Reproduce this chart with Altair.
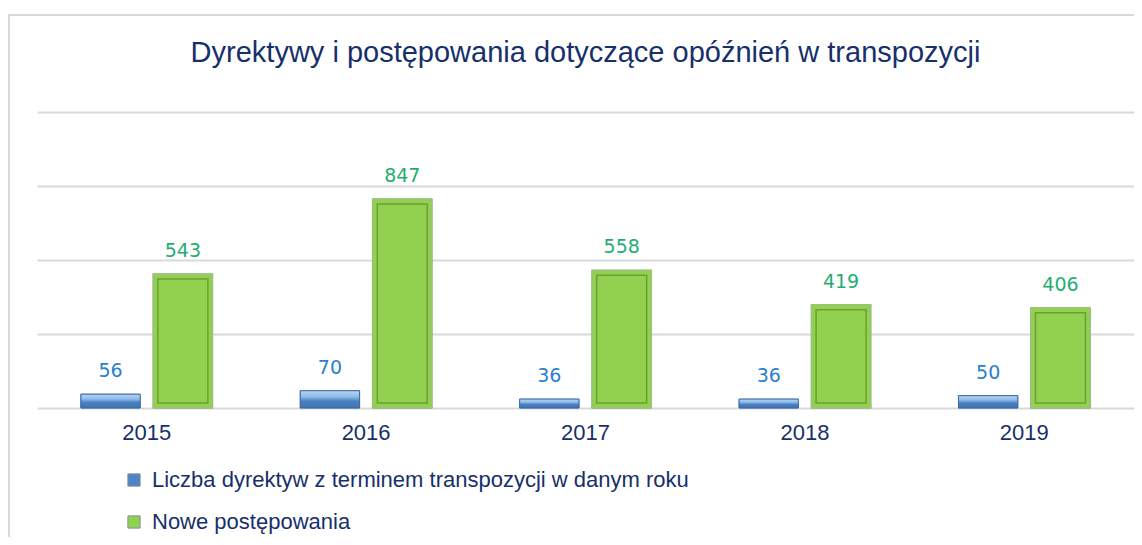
import altair as alt
import pandas as pd

years = ["2015", "2016", "2017", "2018", "2019"]
directives = [56, 70, 36, 36, 50]
proceedings = [543, 847, 558, 419, 406]
series_names = ["Liczba dyrektyw z terminem transpozycji w danym roku", "Nowe postępowania"]
title_text = "Dyrektywy i postępowania dotyczące opóźnień w transpozycji"

rows = []
for y, d, p in zip(years, directives, proceedings):
    rows.append({"year": y, "series": series_names[0], "value": d})
    rows.append({"year": y, "series": series_names[1], "value": p})
df = pd.DataFrame(rows)

NAVY = "#17306b"
FONT = "Liberation Sans"

x_enc = alt.X("year:N", sort=years, title=None,
              scale=alt.Scale(paddingInner=0.4, paddingOuter=0.2),
              axis=alt.Axis(labelFontSize=22, labelFont=FONT, labelColor=NAVY,
                            labelPadding=14, ticks=False, domain=False, labelAngle=0))
xo_enc = alt.XOffset("series:N", scale=alt.Scale(domain=series_names, paddingInner=0.18, paddingOuter=0))
y_enc = alt.Y("value:Q", title=None,
              scale=alt.Scale(domain=[0, 1200]),
              axis=alt.Axis(values=[0, 300, 600, 900, 1200], labels=False, ticks=False,
                            domain=False, grid=True, gridColor="#d9d9d9", gridWidth=2))

base = alt.Chart(df).encode(x=x_enc, xOffset=xo_enc, y=y_enc)

bars = base.mark_bar(stroke="#6f8fb0", strokeWidth=1).encode(
    color=alt.Color("series:N",
                    scale=alt.Scale(domain=series_names, range=["#4f84c4", "#92d050"]),
                    legend=alt.Legend(title=None, orient="none", legendX=86, legendY=357,
                                      direction="vertical", symbolType="square", symbolSize=150,
                                      symbolStrokeColor="#7f8f9f", symbolStrokeWidth=1,
                                      labelFont=FONT, labelFontSize=22, labelColor=NAVY,
                                      labelOffset=7, rowPadding=20, padding=0, labelLimit=800))
)

blue_grad = alt.Gradient(
    gradient="linear",
    stops=[alt.GradientStop(color="#b7d5f3", offset=0),
           alt.GradientStop(color="#8dbbe9", offset=0.35),
           alt.GradientStop(color="#4a7fc0", offset=0.6),
           alt.GradientStop(color="#3f73b3", offset=1)],
    x1=0, x2=0, y1=0, y2=1,
)
blue_over = base.transform_filter(alt.datum.series == series_names[0]).mark_bar(
    color=blue_grad, stroke="#3a6aa6", strokeWidth=1)

green_over = base.transform_filter(alt.datum.series == series_names[1]).mark_bar(
    fill="#92d050", stroke="#9cc27a", strokeWidth=1.5)
green_inner = alt.Chart(df).transform_filter(alt.datum.series == series_names[1]).mark_rect(
    width=50, fillOpacity=0, stroke="#6ba034", strokeWidth=1.5, yOffset=5, y2Offset=-5
).encode(x=x_enc, xOffset=xo_enc, y=y_enc, y2=alt.Y2(datum=0))

labels_blue = base.transform_filter(alt.datum.series == series_names[0]).mark_text(
    font="DejaVu Sans", fontSize=19, color="#2a7fcf", baseline="alphabetic", dy=-17
).encode(text="value:Q")
labels_green = base.transform_filter(alt.datum.series == series_names[1]).mark_text(
    font="DejaVu Sans", fontSize=19, color="#1fae72", baseline="alphabetic", dy=-17
).encode(text="value:Q")

frame = alt.Chart(alt.Data(values=[{"a": 1}])).mark_rect(
    fill="transparent", stroke="#d9d9d9", strokeWidth=2
).encode(x=alt.value(-28), x2=alt.value(1300), y=alt.value(-97), y2=alt.value(700))

title = alt.Chart(alt.Data(values=[{"t": title_text}])).mark_text(
    font=FONT, fontSize=29, color=NAVY, align="center", baseline="alphabetic"
).encode(text="t:N", x=alt.value(548.5), y=alt.value(-50))

chart = alt.layer(frame, title, bars, blue_over, green_over, green_inner, labels_blue, labels_green).properties(
    width=1097, height=296,
    autosize=alt.AutoSizeParams(type="none"),
    padding={"left": 29, "top": 104, "right": 0, "bottom": 129},
).configure_view(stroke=None)

chart.save("out.html", embed_options={"renderer": "svg", "actions": False})
